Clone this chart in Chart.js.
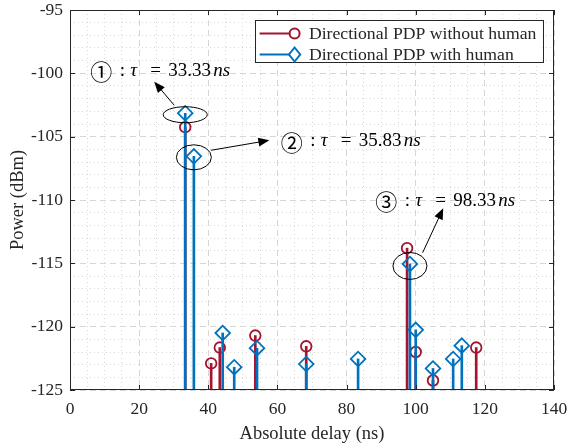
<!DOCTYPE html>
<html>
<head>
<meta charset="utf-8">
<style>
html, body { margin: 0; padding: 0; background: #fff; }
#wrap { position: relative; width: 570px; height: 447px; }
</style>
<script src="https://cdn.jsdelivr.net/npm/chart.js@4.4.0/dist/chart.umd.min.js"></script>
</head>
<body>
<div id="wrap"><canvas id="pdpChart" width="570" height="447"></canvas></div>
<script>
// delay (ns) / power (dBm)
const delayNoHuman = [33.33, 40.83, 43.33, 53.6, 68.33, 97.5, 100.0, 105.0, 117.5];
const powerNoHuman = [-104.25, -122.9, -121.65, -120.7, -121.55, -113.8, -122.0, -124.25, -121.65];
const delayHuman = [33.33, 35.83, 44.17, 47.5, 54.1, 68.33, 83.33, 98.33, 100.0, 105.0, 110.83, 113.33];
const powerHuman = [-103.15, -106.55, -120.5, -123.2, -121.7, -122.95, -122.55, -115.05, -120.25, -123.3, -122.55, -121.5];

const xTicks = [0, 20, 40, 60, 80, 100, 120, 140];
const yTicks = [-125, -120, -115, -110, -105, -100, -95];
const baseLevel = -125;

const labelNoHuman = 'Directional PDP without human';
const labelHuman = 'Directional PDP with human';

// the three marked taps
const markedDelay = [33.33, 35.83, 98.33];
const markedPower = [-103.15, -106.55, -115.05];
const markedNum = ['\u2460', '\u2461', '\u2462'];
const markedTau = ['33.33', '35.83', '98.33'];

const RED = '#A2142F';
const BLUE = '#0072BD';
const AXIS = '#262626';
const SERIF = '"Liberation Serif", "Times New Roman", serif';

// pixel offsets of ellipse / arrow / text around each marked point
const noteLayout = [
  { rx: 22, ry: 8, dy: 1.5, from: [-11, -8], tip: [-31, -31.5], text: [-93.5, -42.5] },
  { rx: 17.5, ry: 12.5, dy: 1, from: [17, -6], tip: [75.5, -16], text: [88.5, -15] },
  { rx: 17, ry: 13.5, dy: 2, from: [12.7, -11.3], tip: [33.3, -55.7], text: [-33.3, -63.3] }
];

function stems(delays, powers) {
  return delays.map((d, i) => ({ x: d, y: [baseLevel, powers[i]] }));
}
function tips(delays, powers) {
  return delays.map((d, i) => ({ x: d, y: powers[i] }));
}

function drawArrow(ctx, x1, y1, x2, y2) {
  const a = Math.atan2(y2 - y1, x2 - x1);
  const len = 11, half = 4.5;
  ctx.beginPath();
  ctx.moveTo(x1, y1);
  ctx.lineTo(x2 - len * 0.8 * Math.cos(a), y2 - len * 0.8 * Math.sin(a));
  ctx.stroke();
  ctx.beginPath();
  ctx.moveTo(x2, y2);
  ctx.lineTo(x2 - len * Math.cos(a) + half * Math.sin(a), y2 - len * Math.sin(a) - half * Math.cos(a));
  ctx.lineTo(x2 - len * Math.cos(a) - half * Math.sin(a), y2 - len * Math.sin(a) + half * Math.cos(a));
  ctx.closePath();
  ctx.fill();
}

function drawNote(ctx, x, y, num, tau) {
  const f = '19px ' + SERIF;
  const fi = 'italic 19px ' + SERIF;
  ctx.textBaseline = 'middle';
  ctx.textAlign = 'left';
  ctx.font = '22px "Noto Sans CJK JP", "DejaVu Sans", sans-serif';
  ctx.fillText(num, x - 1.5, y + 1);
  ctx.font = f;
  ctx.fillText(':', x + 28, y);
  ctx.font = fi;
  ctx.fillText('\u03C4', x + 38.5, y);
  ctx.font = f;
  ctx.fillText('=', x + 58.5, y);
  ctx.fillText(tau, x + 76.5, y);
  ctx.font = fi;
  ctx.fillText('ns', x + 121.5, y);
}

const decorPlugin = {
  id: 'decor',
  afterDatasetsDraw(chart) {
    const { ctx, chartArea: ca, scales } = chart;
    const xs = scales.x, ys = scales.y;
    ctx.save();

    // inward ticks on all four sides
    ctx.strokeStyle = AXIS;
    ctx.lineWidth = 1;
    ctx.beginPath();
    xTicks.forEach(v => {
      const px = Math.round(xs.getPixelForValue(v)) + 0.5;
      ctx.moveTo(px, ca.bottom); ctx.lineTo(px, ca.bottom - 5);
      ctx.moveTo(px, ca.top); ctx.lineTo(px, ca.top + 5);
    });
    yTicks.forEach(v => {
      const py = Math.round(ys.getPixelForValue(v)) + 0.5;
      ctx.moveTo(ca.left, py); ctx.lineTo(ca.left + 5, py);
      ctx.moveTo(ca.right, py); ctx.lineTo(ca.right - 5, py);
    });
    ctx.stroke();
    ctx.strokeRect(Math.round(ca.left) + 0.5, Math.round(ca.top) + 0.5,
      Math.round(ca.right - ca.left) - 1, Math.round(ca.bottom - ca.top) - 1);

    // ellipses, arrows and labels on the marked taps
    ctx.strokeStyle = '#000';
    ctx.fillStyle = '#000';
    markedDelay.forEach((d, i) => {
      const px = xs.getPixelForValue(d);
      const py = ys.getPixelForValue(markedPower[i]);
      const L = noteLayout[i];
      ctx.lineWidth = 1;
      ctx.beginPath();
      ctx.ellipse(px, py + L.dy, L.rx, L.ry, 0, 0, Math.PI * 2);
      ctx.stroke();
      drawArrow(ctx, px + L.from[0], py + L.from[1], px + L.tip[0], py + L.tip[1]);
      drawNote(ctx, px + L.text[0], py + L.text[1], markedNum[i], markedTau[i]);
    });

    // legend box in the upper right corner
    const bw = 287.7, bh = 42;
    const bx = ca.right - 11.7 - bw, by = ca.top + 10.2;
    ctx.fillStyle = '#fff';
    ctx.fillRect(bx, by, bw, bh);
    ctx.strokeStyle = AXIS;
    ctx.lineWidth = 1;
    ctx.strokeRect(Math.round(bx) + 0.5, Math.round(by) + 0.5, Math.round(bw), Math.round(bh));
    const rows = [
      { label: chart.data.datasets[1].label, color: RED, style: 'circle', r: 5 },
      { label: chart.data.datasets[3].label, color: BLUE, style: 'rectRot', r: 7 }
    ];
    rows.forEach((row, k) => {
      const cy = by + 13.3 + k * 21;
      ctx.strokeStyle = row.color;
      ctx.lineWidth = 2;
      ctx.beginPath();
      ctx.moveTo(bx + 5, cy);
      ctx.lineTo(bx + 40, cy);
      ctx.stroke();
      ctx.beginPath();
      if (row.style === 'circle') {
        ctx.arc(bx + 40, cy, row.r, 0, Math.PI * 2);
      } else {
        ctx.moveTo(bx + 40, cy - row.r);
        ctx.lineTo(bx + 40 + row.r * 0.8, cy);
        ctx.lineTo(bx + 40, cy + row.r);
        ctx.lineTo(bx + 40 - row.r * 0.8, cy);
        ctx.closePath();
      }
      ctx.fillStyle = '#fff';
      ctx.fill();
      ctx.stroke();
      ctx.fillStyle = AXIS;
      ctx.font = '17.7px ' + SERIF;
      ctx.textBaseline = 'middle';
      ctx.textAlign = 'left';
      ctx.fillText(row.label, bx + 54.3, cy + 0.5);
    });
    ctx.restore();
  }
};

const ctx = document.getElementById('pdpChart').getContext('2d');

new Chart(ctx, {
  type: 'scatter',
  data: {
    datasets: [
      {
        type: 'bar', label: labelNoHuman, data: stems(delayNoHuman, powerNoHuman),
        backgroundColor: RED, barThickness: 2, grouped: false, order: 4
      },
      {
        type: 'scatter', label: labelNoHuman, data: tips(delayNoHuman, powerNoHuman),
        pointStyle: 'circle', pointRadius: 5.3, borderColor: RED, borderWidth: 1.8,
        backgroundColor: 'rgba(0,0,0,0)', order: 3
      },
      {
        type: 'bar', label: labelHuman, data: stems(delayHuman, powerHuman),
        backgroundColor: BLUE, barThickness: 2, grouped: false, order: 2
      },
      {
        type: 'scatter', label: labelHuman, data: tips(delayHuman, powerHuman),
        pointStyle: 'rectRot', pointRadius: 7.3, borderColor: BLUE, borderWidth: 1.8,
        backgroundColor: 'rgba(0,0,0,0)', order: 1
      }
    ]
  },
  options: {
    responsive: false,
    animation: false,
    events: [],
    layout: { padding: { top: 10, right: 16, left: 0, bottom: 0 } },
    plugins: { legend: { display: false }, tooltip: { enabled: false } },
    scales: {
      x: {
        type: 'linear', min: 0, max: 140, offset: false,
        ticks: {
          stepSize: 5, autoSkip: false, maxRotation: 0, padding: 9,
          color: AXIS, font: { family: SERIF, size: 17.5 },
          callback: v => xTicks.includes(v) ? String(v) : ''
        },
        grid: {
          offset: false, drawTicks: false, lineWidth: 1,
          color: c => xTicks.includes(c.tick.value) ? '#d6d6d6' : '#d9d9d9'
        },
        border: { display: false, dash: c => xTicks.includes(c.tick.value) ? [6, 4] : [1, 3] },
        title: {
          display: true, text: 'Absolute delay (ns)', color: AXIS,
          font: { family: SERIF, size: 18.5 }, padding: { top: 0, bottom: 2 }
        },
        afterFit: s => { s.height = 57; s.paddingLeft = 0; s.paddingRight = 0; }
      },
      y: {
        type: 'linear', min: -125, max: -95,
        ticks: {
          stepSize: 1, autoSkip: false, padding: 7,
          color: AXIS, font: { family: SERIF, size: 17.5 },
          callback: v => yTicks.includes(v) ? String(v) : ''
        },
        grid: {
          drawTicks: false, lineWidth: 1,
          color: c => yTicks.includes(c.tick.value) ? '#d6d6d6' : '#d9d9d9'
        },
        border: { display: false, dash: c => yTicks.includes(c.tick.value) ? [6, 4] : [1, 3] },
        title: {
          display: true, text: 'Power (dBm)', color: AXIS,
          font: { family: SERIF, size: 18.5 }, padding: { top: 7, bottom: 0 }
        },
        afterFit: s => { s.width = 70; s.paddingTop = 0; s.paddingBottom = 0; }
      }
    }
  },
  plugins: [decorPlugin]
});
</script>
</body>
</html>
